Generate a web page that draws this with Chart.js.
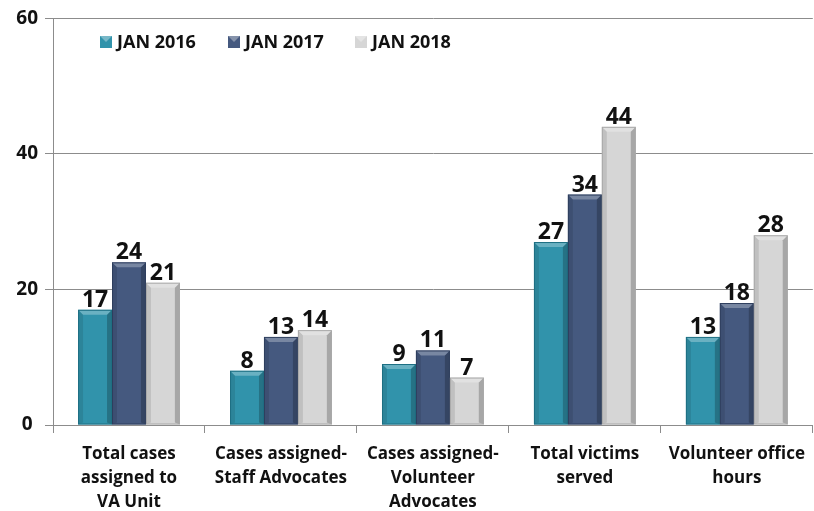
<!DOCTYPE html>
<html><head><meta charset="utf-8">
<script src="https://cdn.jsdelivr.net/npm/chart.js@4/dist/chart.umd.min.js"></script>
<style>html,body{margin:0;padding:0;background:#fff}#wrap{width:814px;height:511px;position:relative}</style>
</head><body><div id="wrap"><canvas id="c"></canvas></div>
<script>
const categories = [["Total cases","assigned to","VA Unit"],["Cases assigned-","Staff Advocates"],["Cases assigned-","Volunteer","Advocates"],["Total victims","served"],["Volunteer office","hours"]];
const seriesNames = ["JAN 2016","JAN 2017","JAN 2018"];
const jan2016 = [17, 8, 9, 27, 13];
const jan2017 = [24, 13, 11, 34, 18];
const jan2018 = [21, 14, 7, 44, 28];
const yTicks = [0, 20, 40, 60];

const fills = ["#3193AB", "#45597F", "#D6D6D6"];
const edges = ["#1E6F83", "#2F3F5E", "#A8A8A8"];
const FONT = "'Open Sans', 'Liberation Sans', sans-serif";

const bevelPlugin = {
  id: 'bevel',
  afterDatasetsDraw(chart) {
    const ctx = chart.ctx;
    chart.data.datasets.forEach((ds, di) => {
      const meta = chart.getDatasetMeta(di);
      meta.data.forEach((el) => {
        const w = el.width, l = el.x - w / 2, r = el.x + w / 2, t = el.y, b = el.base;
        const s = 5;
        ctx.save();
        ctx.fillStyle = 'rgba(0,0,0,0.10)';
        ctx.beginPath(); ctx.moveTo(l, t); ctx.lineTo(l + s, t + s); ctx.lineTo(l + s, b - 2); ctx.lineTo(l, b); ctx.closePath(); ctx.fill();
        ctx.fillStyle = 'rgba(0,0,0,0.22)';
        ctx.beginPath(); ctx.moveTo(r, t); ctx.lineTo(r - s, t + s); ctx.lineTo(r - s, b - 2); ctx.lineTo(r, b); ctx.closePath(); ctx.fill();
        ctx.fillStyle = 'rgba(255,255,255,0.28)';
        ctx.beginPath(); ctx.moveTo(l, t); ctx.lineTo(r, t); ctx.lineTo(r - s, t + s); ctx.lineTo(l + s, t + s); ctx.closePath(); ctx.fill();
        ctx.strokeStyle = edges[di]; ctx.lineWidth = 1;
        ctx.strokeRect(l + 0.5, t + 0.5, w - 1, b - t - 1);
        ctx.restore();
      });
    });
    ctx.save();
    ctx.fillStyle = '#111';
    ctx.font = "bold 23px " + FONT;
    ctx.textAlign = 'center';
    ctx.textBaseline = 'alphabetic';
    chart.data.datasets.forEach((ds, di) => {
      chart.getDatasetMeta(di).data.forEach((el, i) => {
        ctx.fillText(String(ds.data[i]), el.x, el.y - 3);
      });
    });
    ctx.restore();
  }
};

const legendPlugin = {
  id: 'customLegend',
  afterDraw(chart) {
    const ctx = chart.ctx;
    const xs = [100, 228, 355];
    const y = 42;
    ctx.save();
    ctx.font = "bold 18px " + FONT;
    ctx.textBaseline = 'middle';
    ctx.textAlign = 'left';
    chart.data.datasets.forEach((ds, di) => {
      const x = xs[di];
      ctx.fillStyle = fills[di];
      ctx.fillRect(x, y - 6, 12, 12);
      ctx.fillStyle = 'rgba(255,255,255,0.35)';
      ctx.beginPath(); ctx.moveTo(x, y - 6); ctx.lineTo(x + 12, y - 6); ctx.lineTo(x + 6, y); ctx.closePath(); ctx.fill();
      ctx.fillStyle = '#111';
      ctx.fillText(ds.label, x + 17, y + 1);
    });
    ctx.restore();
  }
};

Chart.defaults.font.family = FONT;
Chart.defaults.color = '#111';

new Chart(document.getElementById('c'), {
  type: 'bar',
  data: {
    labels: categories,
    datasets: [
      { label: seriesNames[0], data: jan2016, backgroundColor: fills[0] },
      { label: seriesNames[1], data: jan2017, backgroundColor: fills[1] },
      { label: seriesNames[2], data: jan2018, backgroundColor: fills[2] }
    ]
  },
  options: {
    responsive: true,
    maintainAspectRatio: false,
    animation: false,
    layout: { padding: { top: 12, right: 0, left: 0, bottom: 0 } },
    plugins: { legend: { display: false }, tooltip: { enabled: false } },
    datasets: { bar: { categoryPercentage: 0.67, barPercentage: 1.0 } },
    scales: {
      x: {
        afterFit(s) { s.height = 86; },
        grid: { display: true, drawOnChartArea: false, drawTicks: true, tickLength: 8, color: '#8C8C8C', offset: true },
        border: { display: true, color: '#8C8C8C', width: 1 },
        ticks: { padding: 9, maxRotation: 0, autoSkip: false, font: { size: 17, weight: 'bold', lineHeight: 1.42 }, color: '#111' }
      },
      y: {
        min: 0, max: 60,
        afterFit(s) { s.width = 53; },
        afterBuildTicks(s) { s.ticks = yTicks.map(v => ({ value: v })); },
        grid: { color: '#8C8C8C', drawTicks: true, tickLength: 8 },
        border: { display: true, color: '#8C8C8C', width: 1 },
        ticks: { stepSize: 20, padding: 7, crossAlign: 'center', font: { size: 19, weight: 'bold' }, color: '#111' }
      }
    }
  },
  plugins: [bevelPlugin, legendPlugin]
});
</script>
</body></html>
